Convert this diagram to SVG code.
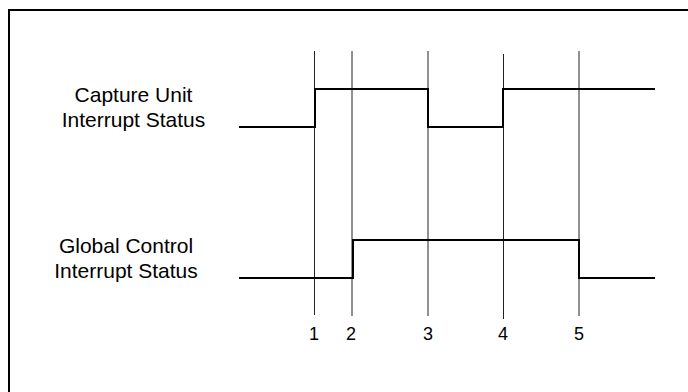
<svg xmlns="http://www.w3.org/2000/svg" width="688" height="392" viewBox="0 0 688 392">
<style>
.lbl{font-family:"Liberation Sans",Arial,sans-serif;font-size:21px;fill:#000;text-anchor:middle}
.num{font-family:"Liberation Sans",Arial,sans-serif;font-size:18px;fill:#000;text-anchor:middle}
.grid{stroke:#222;stroke-width:1;fill:none}
.sig{stroke:#000;stroke-width:2;fill:none}
</style>
<rect width="688" height="392" fill="#fff"/>
<path d="M9,400 V10 H700" fill="none" stroke="#000" stroke-width="2"/>
<g id="markers">
<line class="grid" x1="314.5" y1="51" x2="314.5" y2="315"/>
<line class="grid" x1="352" y1="51" x2="352" y2="316"/>
<line class="grid" x1="428" y1="51" x2="428" y2="316"/>
<line class="grid" x1="503.5" y1="54" x2="503.5" y2="319"/>
<line class="grid" x1="579" y1="51" x2="579" y2="316"/>
</g>
<g id="capture">
<text class="lbl" x="133.5" y="102">Capture Unit</text>
<text class="lbl" x="133.5" y="127">Interrupt Status</text>
<path class="sig" d="M239,127 H315 V89 H428 V127 H503 V89 H655"/>
</g>
<g id="global">
<text class="lbl" x="126" y="253">Global Control</text>
<text class="lbl" x="126" y="278">Interrupt Status</text>
<path class="sig" d="M239,278 H353 V240 H579 V278 H655"/>
</g>
<g id="labels">
<text class="num" x="314" y="340">1</text>
<text class="num" x="351" y="340">2</text>
<text class="num" x="428" y="340">3</text>
<text class="num" x="503" y="340">4</text>
<text class="num" x="579" y="340">5</text>
</g>
</svg>
